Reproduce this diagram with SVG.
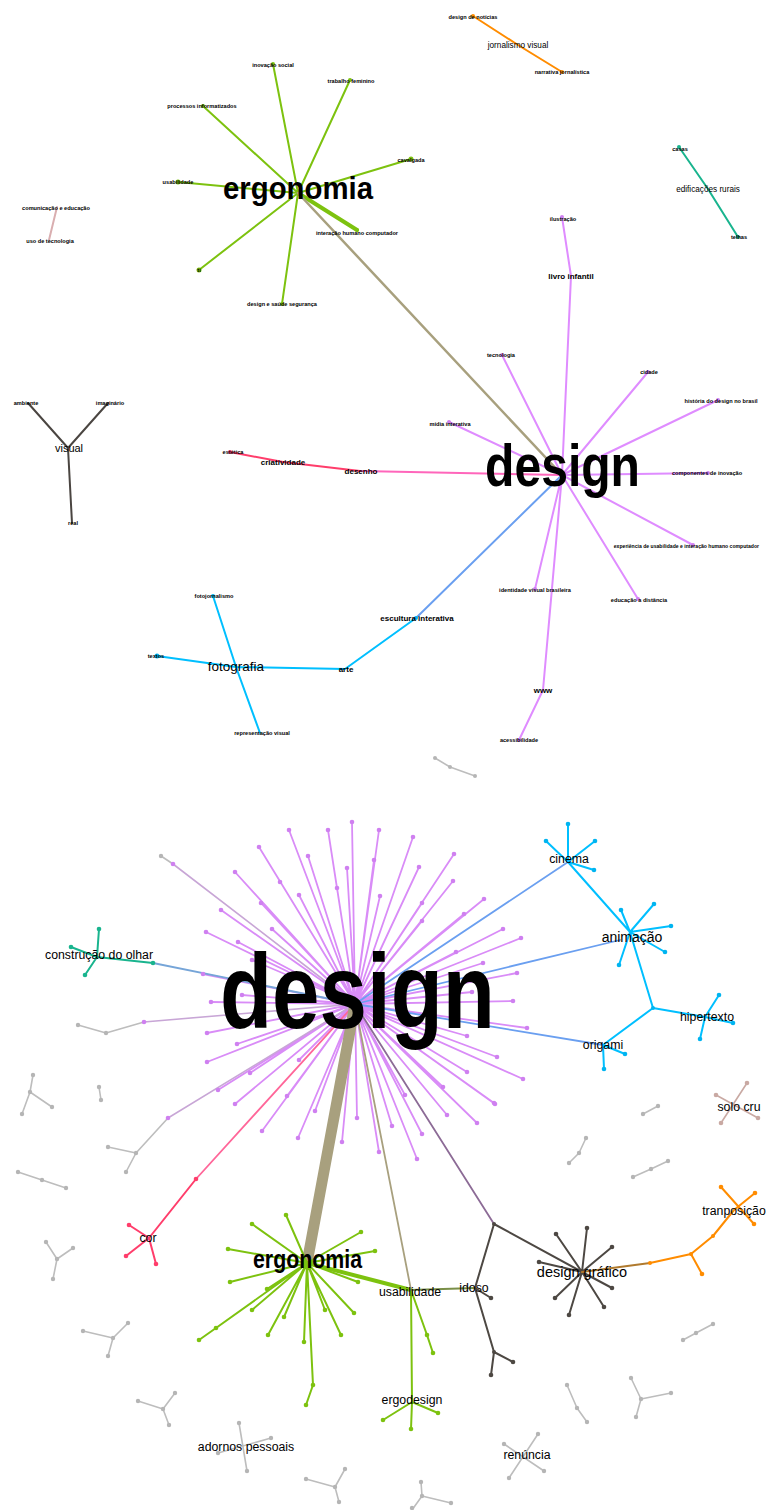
<svg xmlns="http://www.w3.org/2000/svg" width="766" height="1510" viewBox="0 0 766 1510">
<style>
text{font-family:"Liberation Sans",Arial,sans-serif;fill:#000;text-anchor:middle}
.t{font-size:5.6px;font-weight:bold}
.m{font-size:8px;font-weight:bold}
.l{font-size:12.3px}
.b{font-weight:bold}
path{fill:none;stroke-linecap:round;stroke-linejoin:round}
.ge{stroke:#7dc20f;stroke-width:2}
.pe{stroke:#df8cff;stroke-width:2}
.sp{stroke:#d98cf7;stroke-width:1.8}
.cy{stroke:#00bfff;stroke-width:2}
.bl{stroke:#6a9ff0;stroke-width:2}
.gy{stroke:#bdbdbd;stroke-width:1.6}
.dk{stroke:#4d4843;stroke-width:2}
.kh{stroke:#a8a07e}
.lv{stroke:#c8a6d6;stroke-width:1.6}
.or{stroke:#ff8c00;stroke-width:2}
.tl{stroke:#19b48e;stroke-width:2}
.rd{stroke:#ff3d6b;stroke-width:2}
.gd{fill:#7dc20f}
.pd{fill:#cf80f0}
.cd{fill:#00b4f0}
.yd{fill:#b5b5b5}
.dd{fill:#4d4843}
.od{fill:#ff8c00}
.td{fill:#19b48e}
.rdd{fill:#ff3d6b}
.sd{fill:#c9a9a3}
</style>

<g id="connectors">
  <!-- upper graph -->
  <path class="ge" d="M298 193L273 64M298 193L350 80M298 193L203 106M298 193L411 159M298 193L178 182M298 193L199 270M298 193L282 304"/>
  <path class="ge" style="stroke-width:4" d="M298 193L357 230"/>
  <path class="kh" style="stroke-width:2.5" d="M298 193L562 475"/>
  <path class="or" d="M473 16L518 45L562 72"/>
  <path class="tl" d="M679 147L708 189L738 237"/>
  <path style="stroke:#d9aeb0;stroke-width:2" d="M57 207L49 240"/>
  <path style="stroke:#4a4541;stroke-width:2" d="M28 403L68 448L108 403M68 448L72 523"/>
  <path class="pe" d="M562 475L571 276L562 217M562 475L502 355M562 475L648 372M562 475L718 400M562 475L449 422M562 475L708 473M562 475L693 545M562 475L638 599M562 475L535 589M562 475L543 690L519 740"/>
  <path style="stroke:#ff66bb;stroke-width:2" d="M562 475L360 471"/>
  <path class="rd" d="M360 471L283 462L230 452"/>
  <path class="bl" d="M562 475L416 618"/>
  <path class="cy" d="M416 618L345 669L236 667L157 656M213 596L236 667L260 733"/>
  <path class="gy" d="M435 758L450 767L475 776"/>

  <!-- lower graph: design spokes -->
  <path class="sp" d="M355 1004L352 822M355 1004L379 830M355 1004L328 830M355 1004L289 830M355 1004L413 837M355 1004L259 847M355 1004L308 856M355 1004L454 854M355 1004L374 860M355 1004L235 872M355 1004L347 868M355 1004L419 867M355 1004L453 881M355 1004L299 895M355 1004L380 896M355 1004L261 903M355 1004L484 899M355 1004L422 903M355 1004L221 910M355 1004L464 914M355 1004L422 921M355 1004L272 929M355 1004L503 929M355 1004L206 932M355 1004L521 938M355 1004L238 942M355 1004L456 952M355 1004L483 963M355 1004L252 960M355 1004L517 973M355 1004L203 974M355 1004L472 992M355 1004L242 995M355 1004L211 1002M355 1004L513 1001M355 1004L207 1033M355 1004L237 1044M355 1004L207 1062M355 1004L250 1073M355 1004L218 1090M355 1004L235 1104M355 1004L287 1096M355 1004L315 1111M355 1004L357 1118M355 1004L299 1060M355 1004L262 1131M355 1004L298 1138M355 1004L342 1142M355 1004L379 1152M355 1004L392 1126M355 1004L417 1159M355 1004L422 1134M355 1004L447 1115M355 1004L443 1087M355 1004L477 1123M355 1004L495 1104M355 1004L467 1072M355 1004L523 1079M355 1004L497 1057M355 1004L527 1028M355 1004L467 1036M355 1004L405 1095M355 1004L494 1103"/>
  <path class="lv" d="M355 1004L173 864M355 1004L144 1022M355 1004L168 1118"/>
  <path class="gy" d="M173 864L161 856M144 1022L106 1033L78 1025M168 1118L136 1153L108 1147M136 1153L126 1172"/>
  <path style="stroke:#ff6699;stroke-width:1.8" d="M355 1004L196 1179"/>
  <path class="rd" d="M196 1179L149 1238M129 1225L149 1238L126 1256M149 1238L156 1264"/>
  <path style="stroke:#76a5d8;stroke-width:1.8" d="M355 1004L153 963"/>
  <path class="tl" d="M71 947L97 957L153 963M99 929L97 957L85 975"/>
  <path class="bl" style="stroke-width:1.8" d="M355 1004L568 862M355 1004L620 940M355 1004L603 1045"/>
  <path class="cy" d="M568 862L568 824M568 862L546 841M568 862L595 841M568 862L594 870M568 862L630 932M630 932L621 910M630 932L654 904M630 932L671 926M630 932L665 952M630 932L619 965M630 932L653 1008L705 1017M653 1008L603 1045L604 1069M603 1045L625 1054M705 1017L719 995M705 1017L733 1023M705 1017L700 1039"/>
  <path style="stroke:#a8a07e;stroke-width:11" d="M355 1004L307 1263"/>
  <path class="ge" d="M307 1263L286 1215M307 1263L252 1224M307 1263L361 1232M307 1263L228 1249M307 1263L375 1251M307 1263L230 1282M307 1263L358 1282M307 1263L267 1289M307 1263L252 1310M307 1263L325 1310M307 1263L284 1317M307 1263L354 1313M307 1263L216 1328L199 1340M307 1263L268 1335M307 1263L341 1335M307 1263L304 1342M307 1263L313 1385L306 1405"/>
  <path class="ge" style="stroke-width:4" d="M307 1263L411 1290"/>
  <path class="kh" style="stroke-width:1.8" d="M355 1004L411 1290"/>
  <path class="ge" d="M411 1290L427 1335L433 1353M411 1290L412 1402L411 1429M412 1402L383 1420M412 1402L438 1413"/>
  <path style="stroke:#7a8f48;stroke-width:2" d="M411 1290L475 1288"/>
  <path style="stroke:#8c6b96;stroke-width:1.8" d="M355 1004L494 1224"/>
  <path class="dk" d="M475 1288L494 1224L582 1272M475 1288L491 1298M475 1288L494 1352L491 1375M494 1352L513 1362M582 1272L587 1228M582 1272L556 1234M582 1272L612 1247M582 1272L539 1262M582 1272L612 1288M582 1272L555 1298M582 1272L604 1307M582 1272L569 1315"/>
  <path style="stroke:#b07a2e;stroke-width:2" d="M582 1272L650 1263"/>
  <path class="or" d="M650 1263L691 1254L702 1274M691 1254L713 1236L734 1210M721 1187L754 1224M755 1193L734 1210"/>
  <path style="stroke:#c9a9a3;stroke-width:1.6" d="M747 1083L721 1123M716 1095L758 1118"/>
  <path class="gy" d="M33 1075L30 1092L52 1107M30 1092L22 1114M99 1087L101 1100M18 1172L42 1180L66 1188M46 1242L57 1259L73 1248M57 1259L53 1279M83 1331L113 1338L128 1323M113 1338L108 1356M138 1401L163 1409L175 1393M163 1409L169 1425M239 1423L247 1471M271 1438L218 1453M306 1479L335 1487L345 1469M335 1487L339 1502M421 1482L422 1496L451 1503M422 1496L412 1510M538 1434L509 1478M504 1444L544 1471M567 1385L577 1408L587 1422M631 1378L641 1399L671 1393M641 1399L636 1417M683 1340L696 1333L713 1324M569 1163L579 1153L586 1138M633 1177L651 1169L668 1161M643 1114L658 1106"/>
</g>

<!-- ===== upper graph nodes ===== -->
<g id="n-ergonomia-top"><text class="b" x="298" y="199" font-size="32" textLength="150" lengthAdjust="spacingAndGlyphs">ergonomia</text></g>
<g id="n-inovacao"><circle class="gd" cx="273" cy="64" r="2"/><text class="t" x="273" y="67">inovação social</text></g>
<g id="n-trabalho"><circle class="gd" cx="350" cy="80" r="2"/><text class="t" x="351" y="83">trabalho feminino</text></g>
<g id="n-processos"><circle class="gd" cx="203" cy="106" r="2"/><text class="t" x="202" y="108">processos informatizados</text></g>
<g id="n-cavalgada"><circle class="gd" cx="411" cy="159" r="2.5"/><text class="t" x="411" y="162">cavalgada</text></g>
<g id="n-usab-top"><circle class="gd" cx="178" cy="182" r="2.5"/><text class="t" x="178" y="184">usabilidade</text></g>
<g id="n-ihc-top"><circle class="gd" cx="357" cy="230" r="2"/><text class="t" x="357" y="235">interação humano computador</text></g>
<g id="n-ti"><circle class="gd" cx="199" cy="270" r="2.5"/><text class="t" x="199" y="272">ti</text></g>
<g id="n-saude"><circle class="gd" cx="282" cy="304" r="2"/><text class="t" x="282" y="306">design e saúde segurança</text></g>

<g id="n-design-noticias"><circle class="od" cx="473" cy="16" r="2"/><text class="t" x="473" y="19">design de notícias</text></g>
<g id="n-jornalismo"><text x="518" y="48" font-size="8.2">jornalismo visual</text></g>
<g id="n-narrativa"><circle class="od" cx="562" cy="72" r="2"/><text class="t" x="562" y="74">narrativa jornalística</text></g>

<g id="n-casas"><circle class="td" cx="679" cy="147" r="2"/><text class="t" x="680" y="151">casas</text></g>
<g id="n-edificacoes"><text x="708" y="192" font-size="8.2">edificações rurais</text></g>
<g id="n-telhas"><circle class="td" cx="738" cy="237" r="2"/><text class="t" x="739" y="239">telhas</text></g>

<g id="n-comunicacao"><text class="t" x="56" y="210">comunicação e educação</text></g>
<g id="n-tecnologia-uso"><text class="t" x="50" y="243">uso de tecnologia</text></g>

<g id="n-visual"><text x="69" y="452" font-size="11">visual</text></g>
<g id="n-ambiente"><text class="t" x="26" y="405">ambiente</text></g>
<g id="n-imaginario"><text class="t" x="110" y="405">imaginário</text></g>
<g id="n-real"><text class="t" x="73" y="525">real</text></g>

<g id="n-design-top"><circle class="pd" cx="562" cy="475" r="3"/><text class="b" x="562.5" y="486" font-size="59" textLength="155" lengthAdjust="spacingAndGlyphs">design</text></g>
<g id="n-livro"><text class="m" x="571" y="279">livro infantil</text></g>
<g id="n-ilustracao"><circle class="pd" cx="562" cy="217" r="2"/><text class="t" x="563" y="221">ilustração</text></g>
<g id="n-tecnologia"><circle class="pd" cx="502" cy="355" r="2"/><text class="t" x="501" y="357">tecnologia</text></g>
<g id="n-cidade"><circle class="pd" cx="648" cy="372" r="2"/><text class="t" x="649" y="374">cidade</text></g>
<g id="n-historia"><circle class="pd" cx="718" cy="400" r="2"/><text class="t" x="721" y="403">história do design no brasil</text></g>
<g id="n-midia"><circle class="pd" cx="449" cy="422" r="2"/><text class="t" x="450" y="426">mídia interativa</text></g>
<g id="n-componentes"><circle class="pd" cx="708" cy="473" r="2"/><text class="t" x="707" y="475">componentes de inovação</text></g>
<g id="n-experiencia"><circle class="pd" cx="693" cy="545" r="2"/><text class="t" x="759" y="548" style="text-anchor:end;font-size:5.1px">experiência de usabilidade e interação humano computador</text></g>
<g id="n-educacao"><circle class="pd" cx="638" cy="599" r="2"/><text class="t" x="639" y="602">educação a distância</text></g>
<g id="n-identidade"><circle class="pd" cx="535" cy="589" r="2"/><text class="t" x="535" y="592">identidade visual brasileira</text></g>
<g id="n-www"><text class="m" x="543" y="693">www</text></g>
<g id="n-acessibilidade"><circle class="pd" cx="519" cy="740" r="2"/><text class="t" x="519" y="742">acessibilidade</text></g>

<g id="n-desenho"><text class="m" x="361" y="474">desenho</text></g>
<g id="n-criatividade"><text class="m" x="283" y="465">criatividade</text></g>
<g id="n-estetica"><circle class="rdd" cx="230" cy="452" r="2"/><text class="t" x="233" y="454">estética</text></g>

<g id="n-escultura"><circle class="cd" cx="416" cy="618" r="2"/><text class="m" x="417" y="621">escultura interativa</text></g>
<g id="n-arte"><text class="m" x="346" y="672">arte</text></g>
<g id="n-fotografia"><text x="236" y="671" font-size="13.5">fotografia</text></g>
<g id="n-fotojornalismo"><circle class="cd" cx="213" cy="596" r="2"/><text class="t" x="214" y="598">fotojornalismo</text></g>
<g id="n-textos"><circle class="cd" cx="157" cy="656" r="2.5"/><text class="t" x="156" y="658">textos</text></g>
<g id="n-representacao"><text class="t" x="262" y="735">representação visual</text></g>

<g id="n-grey-top"><circle class="yd" cx="435" cy="758" r="2"/><circle class="yd" cx="450" cy="767" r="2"/><circle class="yd" cx="475" cy="776" r="2"/></g>

<!-- ===== lower graph nodes ===== -->
<g id="n-design-leaves">
<circle class="pd" cx="352" cy="822" r="2.3"/><circle class="pd" cx="379" cy="830" r="2.3"/><circle class="pd" cx="328" cy="830" r="2.3"/><circle class="pd" cx="289" cy="830" r="2.3"/><circle class="pd" cx="413" cy="837" r="2.3"/><circle class="pd" cx="259" cy="847" r="2.3"/><circle class="pd" cx="308" cy="856" r="2.3"/><circle class="pd" cx="454" cy="854" r="2.3"/><circle class="pd" cx="374" cy="860" r="2.3"/><circle class="pd" cx="235" cy="872" r="2.3"/><circle class="pd" cx="347" cy="868" r="2.3"/><circle class="pd" cx="419" cy="867" r="2.3"/><circle class="pd" cx="453" cy="881" r="2.3"/><circle class="pd" cx="299" cy="895" r="2.3"/><circle class="pd" cx="380" cy="896" r="2.3"/><circle class="pd" cx="261" cy="903" r="2.3"/><circle class="pd" cx="484" cy="899" r="2.3"/><circle class="pd" cx="422" cy="903" r="2.3"/><circle class="pd" cx="221" cy="910" r="2.3"/><circle class="pd" cx="464" cy="914" r="2.3"/><circle class="pd" cx="422" cy="921" r="2.3"/><circle class="pd" cx="272" cy="929" r="2.3"/><circle class="pd" cx="503" cy="929" r="2.3"/><circle class="pd" cx="206" cy="932" r="2.3"/><circle class="pd" cx="521" cy="938" r="2.3"/><circle class="pd" cx="238" cy="942" r="2.3"/><circle class="pd" cx="456" cy="952" r="2.3"/><circle class="pd" cx="483" cy="963" r="2.3"/><circle class="pd" cx="252" cy="960" r="2.3"/><circle class="pd" cx="517" cy="973" r="2.3"/><circle class="pd" cx="203" cy="974" r="2.3"/><circle class="pd" cx="472" cy="992" r="2.3"/><circle class="pd" cx="242" cy="995" r="2.3"/><circle class="pd" cx="211" cy="1002" r="2.3"/><circle class="pd" cx="513" cy="1001" r="2.3"/><circle class="pd" cx="207" cy="1033" r="2.3"/><circle class="pd" cx="237" cy="1044" r="2.3"/><circle class="pd" cx="207" cy="1062" r="2.3"/><circle class="pd" cx="250" cy="1073" r="2.3"/><circle class="pd" cx="218" cy="1090" r="2.3"/><circle class="pd" cx="235" cy="1104" r="2.3"/><circle class="pd" cx="287" cy="1096" r="2.3"/><circle class="pd" cx="315" cy="1111" r="2.3"/><circle class="pd" cx="357" cy="1118" r="2.3"/><circle class="pd" cx="299" cy="1060" r="2.3"/><circle class="pd" cx="262" cy="1131" r="2.3"/><circle class="pd" cx="298" cy="1138" r="2.3"/><circle class="pd" cx="342" cy="1142" r="2.3"/><circle class="pd" cx="379" cy="1152" r="2.3"/><circle class="pd" cx="392" cy="1126" r="2.3"/><circle class="pd" cx="417" cy="1159" r="2.3"/><circle class="pd" cx="422" cy="1134" r="2.3"/><circle class="pd" cx="447" cy="1115" r="2.3"/><circle class="pd" cx="443" cy="1087" r="2.3"/><circle class="pd" cx="477" cy="1123" r="2.3"/><circle class="pd" cx="495" cy="1104" r="2.3"/><circle class="pd" cx="467" cy="1072" r="2.3"/><circle class="pd" cx="523" cy="1079" r="2.3"/><circle class="pd" cx="497" cy="1057" r="2.3"/><circle class="pd" cx="527" cy="1028" r="2.3"/><circle class="pd" cx="467" cy="1036" r="2.3"/><circle class="pd" cx="405" cy="1095" r="2.3"/><circle class="pd" cx="494" cy="1103" r="2.3"/>
<circle class="pd" cx="280" cy="882" r="2.3"/><circle class="pd" cx="337" cy="888" r="2.3"/><circle class="pd" cx="173" cy="864" r="2.3"/><circle class="pd" cx="144" cy="1022" r="2.3"/><circle class="pd" cx="168" cy="1118" r="2.3"/>
</g>
<g id="n-design-bottom"><text class="b" x="357.5" y="1028" font-size="106" textLength="275" lengthAdjust="spacingAndGlyphs">design</text></g>

<g id="n-construcao"><circle class="td" cx="71" cy="947" r="2.3"/><circle class="td" cx="99" cy="929" r="2.3"/><circle class="td" cx="85" cy="975" r="2.3"/><circle class="td" cx="153" cy="963" r="2.3"/><text class="l" x="99" y="959">construção do olhar</text></g>

<g id="n-cinema"><circle class="cd" cx="568" cy="824" r="2.3"/><circle class="cd" cx="546" cy="841" r="2.3"/><circle class="cd" cx="595" cy="841" r="2.3"/><circle class="cd" cx="594" cy="870" r="2.3"/><text class="l" x="569" y="863">cinema</text></g>
<g id="n-animacao"><circle class="cd" cx="621" cy="910" r="2.3"/><circle class="cd" cx="654" cy="904" r="2.3"/><circle class="cd" cx="671" cy="926" r="2.3"/><circle class="cd" cx="665" cy="952" r="2.3"/><circle class="cd" cx="619" cy="965" r="2.3"/><text x="632" y="942" font-size="14">animação</text></g>
<g id="n-hipertexto"><circle class="cd" cx="653" cy="1008" r="2"/><circle class="cd" cx="719" cy="995" r="2.3"/><circle class="cd" cx="733" cy="1023" r="2.3"/><circle class="cd" cx="700" cy="1039" r="2.3"/><text class="l" x="707" y="1021">hipertexto</text></g>
<g id="n-origami"><circle class="cd" cx="604" cy="1069" r="2.3"/><circle class="cd" cx="625" cy="1054" r="2.3"/><text class="l" x="603" y="1049">origami</text></g>
<g id="n-solo-cru"><circle class="sd" cx="747" cy="1083" r="2.3"/><circle class="sd" cx="716" cy="1095" r="2.3"/><circle class="sd" cx="758" cy="1118" r="2.3"/><circle class="sd" cx="721" cy="1123" r="2.3"/><text class="l" x="739" y="1111">solo cru</text></g>

<g id="n-cor"><circle class="rdd" cx="196" cy="1179" r="2.3"/><circle class="rdd" cx="129" cy="1225" r="2.3"/><circle class="rdd" cx="126" cy="1256" r="2.3"/><circle class="rdd" cx="156" cy="1264" r="2.3"/><text class="l" x="148" y="1242">cor</text></g>

<g id="n-ergonomia-bottom">
<circle class="gd" cx="286" cy="1215" r="2.3"/><circle class="gd" cx="252" cy="1224" r="2.3"/><circle class="gd" cx="361" cy="1232" r="2.3"/><circle class="gd" cx="228" cy="1249" r="2.3"/><circle class="gd" cx="375" cy="1251" r="2.3"/><circle class="gd" cx="230" cy="1282" r="2.3"/><circle class="gd" cx="358" cy="1282" r="2.3"/><circle class="gd" cx="267" cy="1289" r="2.3"/><circle class="gd" cx="252" cy="1310" r="2.3"/><circle class="gd" cx="325" cy="1310" r="2.3"/><circle class="gd" cx="284" cy="1317" r="2.3"/><circle class="gd" cx="354" cy="1313" r="2.3"/><circle class="gd" cx="216" cy="1328" r="2.3"/><circle class="gd" cx="199" cy="1340" r="2.3"/><circle class="gd" cx="268" cy="1335" r="2.3"/><circle class="gd" cx="341" cy="1335" r="2.3"/><circle class="gd" cx="304" cy="1342" r="2.3"/><circle class="gd" cx="313" cy="1385" r="2.3"/><circle class="gd" cx="306" cy="1405" r="2.3"/>
<text class="b" x="307.5" y="1268" font-size="25" textLength="109" lengthAdjust="spacingAndGlyphs">ergonomia</text></g>
<g id="n-usabilidade"><circle class="gd" cx="427" cy="1335" r="2.3"/><circle class="gd" cx="433" cy="1353" r="2.3"/><text class="l" x="410" y="1296">usabilidade</text></g>
<g id="n-ergodesign"><circle class="gd" cx="383" cy="1420" r="2.3"/><circle class="gd" cx="438" cy="1413" r="2.3"/><circle class="gd" cx="411" cy="1429" r="2.3"/><text class="l" x="412" y="1404">ergodesign</text></g>
<g id="n-idoso"><circle class="dd" cx="494" cy="1224" r="2"/><circle class="dd" cx="491" cy="1298" r="2.3"/><circle class="dd" cx="494" cy="1352" r="2"/><circle class="dd" cx="491" cy="1375" r="2.3"/><circle class="dd" cx="513" cy="1362" r="2.3"/><text class="l" x="474" y="1292">idoso</text></g>
<g id="n-design-grafico"><circle class="dd" cx="587" cy="1228" r="2.3"/><circle class="dd" cx="556" cy="1234" r="2.3"/><circle class="dd" cx="612" cy="1247" r="2.3"/><circle class="dd" cx="539" cy="1262" r="2.3"/><circle class="dd" cx="612" cy="1288" r="2.3"/><circle class="dd" cx="555" cy="1298" r="2.3"/><circle class="dd" cx="604" cy="1307" r="2.3"/><circle class="dd" cx="569" cy="1315" r="2.3"/><text x="582" y="1277" font-size="14.5">design gráfico</text></g>
<g id="n-tranposicao"><circle class="od" cx="650" cy="1263" r="2"/><circle class="od" cx="691" cy="1254" r="2"/><circle class="od" cx="702" cy="1274" r="2.3"/><circle class="od" cx="713" cy="1236" r="2"/><circle class="od" cx="721" cy="1187" r="2.3"/><circle class="od" cx="755" cy="1193" r="2.3"/><circle class="od" cx="754" cy="1224" r="2.3"/><text class="l" x="734" y="1215">tranposição</text></g>

<g id="n-adornos"><circle class="yd" cx="239" cy="1423" r="2.2"/><circle class="yd" cx="271" cy="1438" r="2.2"/><circle class="yd" cx="218" cy="1453" r="2.2"/><circle class="yd" cx="247" cy="1471" r="2.2"/><text class="l" x="246" y="1451">adornos pessoais</text></g>
<g id="n-renuncia"><circle class="yd" cx="538" cy="1434" r="2.2"/><circle class="yd" cx="504" cy="1444" r="2.2"/><circle class="yd" cx="544" cy="1471" r="2.2"/><circle class="yd" cx="509" cy="1478" r="2.2"/><text class="l" x="527" y="1459">renúncia</text></g>

<g id="n-grey-bottom">
<circle class="yd" cx="161" cy="856" r="2.2"/><circle class="yd" cx="106" cy="1033" r="2.2"/><circle class="yd" cx="78" cy="1025" r="2.2"/><circle class="yd" cx="136" cy="1153" r="2.2"/><circle class="yd" cx="108" cy="1147" r="2.2"/><circle class="yd" cx="126" cy="1172" r="2.2"/>
<circle class="yd" cx="33" cy="1075" r="2.2"/><circle class="yd" cx="30" cy="1092" r="2.2"/><circle class="yd" cx="52" cy="1107" r="2.2"/><circle class="yd" cx="22" cy="1114" r="2.2"/>
<circle class="yd" cx="99" cy="1087" r="2.2"/><circle class="yd" cx="101" cy="1100" r="2.2"/>
<circle class="yd" cx="18" cy="1172" r="2.2"/><circle class="yd" cx="42" cy="1180" r="2.2"/><circle class="yd" cx="66" cy="1188" r="2.2"/>
<circle class="yd" cx="46" cy="1242" r="2.2"/><circle class="yd" cx="57" cy="1259" r="2.2"/><circle class="yd" cx="73" cy="1248" r="2.2"/><circle class="yd" cx="53" cy="1279" r="2.2"/>
<circle class="yd" cx="83" cy="1331" r="2.2"/><circle class="yd" cx="113" cy="1338" r="2.2"/><circle class="yd" cx="128" cy="1323" r="2.2"/><circle class="yd" cx="108" cy="1356" r="2.2"/>
<circle class="yd" cx="138" cy="1401" r="2.2"/><circle class="yd" cx="163" cy="1409" r="2.2"/><circle class="yd" cx="175" cy="1393" r="2.2"/><circle class="yd" cx="169" cy="1425" r="2.2"/>
<circle class="yd" cx="306" cy="1479" r="2.2"/><circle class="yd" cx="335" cy="1487" r="2.2"/><circle class="yd" cx="345" cy="1469" r="2.2"/><circle class="yd" cx="339" cy="1502" r="2.2"/>
<circle class="yd" cx="421" cy="1482" r="2.2"/><circle class="yd" cx="422" cy="1496" r="2.2"/><circle class="yd" cx="451" cy="1503" r="2.2"/><circle class="yd" cx="412" cy="1508" r="2.2"/>
<circle class="yd" cx="567" cy="1385" r="2.2"/><circle class="yd" cx="577" cy="1408" r="2.2"/><circle class="yd" cx="587" cy="1422" r="2.2"/>
<circle class="yd" cx="631" cy="1378" r="2.2"/><circle class="yd" cx="641" cy="1399" r="2.2"/><circle class="yd" cx="671" cy="1393" r="2.2"/><circle class="yd" cx="636" cy="1417" r="2.2"/>
<circle class="yd" cx="683" cy="1340" r="2.2"/><circle class="yd" cx="696" cy="1333" r="2.2"/><circle class="yd" cx="713" cy="1324" r="2.2"/>
<circle class="yd" cx="569" cy="1163" r="2.2"/><circle class="yd" cx="579" cy="1153" r="2.2"/><circle class="yd" cx="586" cy="1138" r="2.2"/>
<circle class="yd" cx="633" cy="1177" r="2.2"/><circle class="yd" cx="651" cy="1169" r="2.2"/><circle class="yd" cx="668" cy="1161" r="2.2"/>
<circle class="yd" cx="643" cy="1114" r="2.2"/><circle class="yd" cx="658" cy="1106" r="2.2"/>
</g>
</svg>
